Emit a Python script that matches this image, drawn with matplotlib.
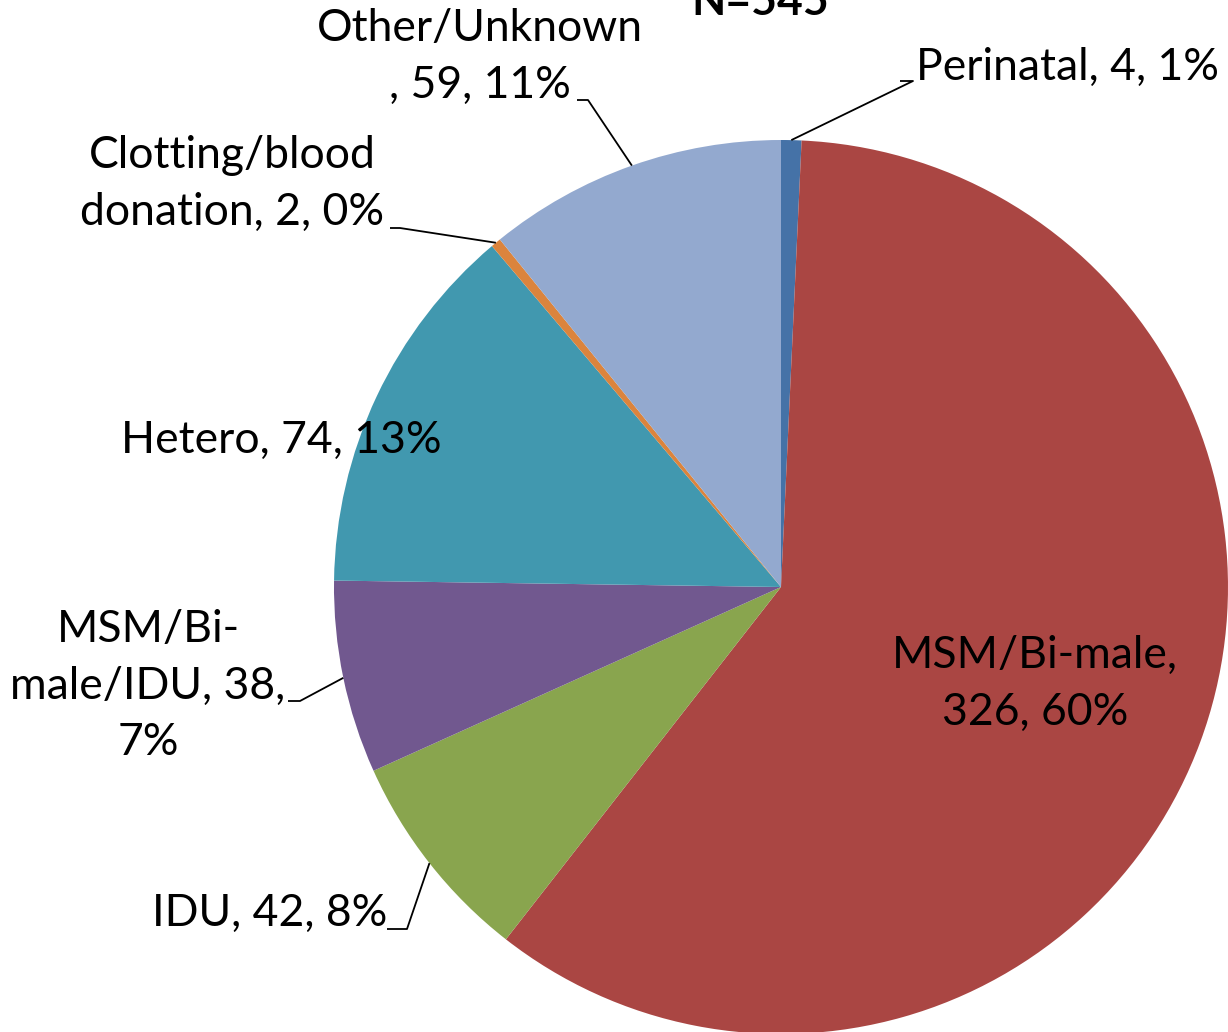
import numpy as np
import matplotlib
matplotlib.use("Agg")
import matplotlib.pyplot as plt

# data (clockwise from 12 o'clock)
categories = ["Perinatal", "MSM/Bi-male", "IDU", "MSM/Bi-male/IDU",
              "Hetero", "Clotting/blood donation", "Other/Unknown"]
counts = [4, 326, 42, 38, 74, 2, 59]
pcts = ["1%", "60%", "8%", "7%", "13%", "0%", "11%"]
colors = ["#4572A7", "#AA4643", "#89A54E", "#71588F",
          "#4198AF", "#DB843D", "#93A9CF"]
title = "N=545"

W, H = 1228, 1032
FONT = "Lato"
FS = 32

fig = plt.figure(figsize=(W / 100, H / 100), dpi=100)
ax = fig.add_axes([0, 0, 1, 1])

cx, cy, R = 781, H - 587, 447
wedges, _ = ax.pie(counts, colors=colors, startangle=90, counterclock=False,
                   center=(cx, cy), radius=R, wedgeprops=dict(linewidth=0))
ax.set_xlim(0, W)
ax.set_ylim(0, H)
ax.set_aspect("auto")
ax.axis("off")


def py(y):
    return H - y


# label placement: (x, y from top, format, leader elbow, leader end)
layout = {
    0: (1067, 67, "{c}, {n}, {p}", (913, 81), (900, 81)),
    1: (1035, 684, "MSM/Bi-male,\n{n}, {p}", None, None),
    2: (270, 913, "{c}, {n}, {p}", (407, 929), (387, 929)),
    3: (148, 686, "MSM/Bi-\nmale/IDU, {n},\n{p}", (300, 701), (288, 701)),
    4: (281, 440, "{c}, {n}, {p}", None, None),
    5: (232, 184, "Clotting/blood\ndonation, {n}, {p}", (400, 228), (390, 228)),
    6: (480, 57, "{c}\n, {n}, {p}", (588, 100), (577, 100)),
}

for i, w in enumerate(wedges):
    x, y, fmt, elbow, end = layout[i]
    txt = fmt.format(c=categories[i], n=counts[i], p=pcts[i])
    ax.text(x, py(y), txt, ha="center", va="center", fontsize=FS,
            family=FONT, color="black", linespacing=1.48)
    if elbow is not None:
        ang = np.deg2rad((w.theta1 + w.theta2) / 2)
        ax.plot([cx + R * np.cos(ang), elbow[0], end[0]],
                [cy + R * np.sin(ang), py(elbow[1]), py(end[1])],
                color="black", lw=1.3, solid_capstyle="butt")

ax.text(760, py(15), title, ha="center", va="baseline", fontsize=FS,
        family=FONT, fontweight="bold")

fig.savefig("out.png", dpi=100)
